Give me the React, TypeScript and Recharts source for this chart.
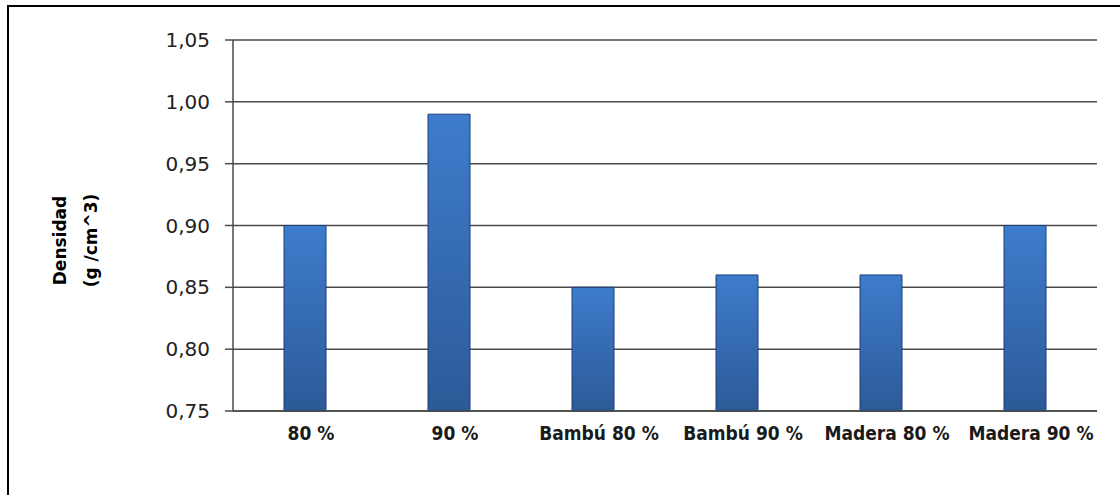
import { BarChart, Bar, XAxis, YAxis, CartesianGrid } from 'recharts';

const CATEGORIES = ['80 %', '90 %', 'Bambú 80 %', 'Bambú 90 %', 'Madera 80 %', 'Madera 90 %'];
const DENSIDAD = [0.9, 0.99, 0.85, 0.86, 0.86, 0.9];
const Y_TICKS = [0.75, 0.8, 0.85, 0.9, 0.95, 1.0, 1.05];

const chartData = CATEGORIES.map((name, i) => ({ name, value: DENSIDAD[i] }));

const formatTick = (v: number) => v.toFixed(2).replace('.', ',');

const AxisTitle = ({ viewBox }: any) => {
  const cy = viewBox.y + viewBox.height / 2 + 15;
  return (
    <g fontFamily="'DejaVu Sans', sans-serif" fontWeight="bold" fill="#000">
      <text x={60} y={cy} transform={`rotate(-90, 60, ${cy})`} textAnchor="middle" dominantBaseline="central" fontSize={17}>
        Densidad
      </text>
      <text x={91} y={cy} transform={`rotate(-90, 91, ${cy})`} textAnchor="middle" dominantBaseline="central" fontSize={17}>
        (g /cm^3)
      </text>
    </g>
  );
};

export default function App() {
  return (
    <div style={{ position: 'absolute', left: 0, top: 0, width: 1120, height: 495, background: '#fff' }}>
      <div
        style={{
          position: 'absolute',
          left: 7,
          top: 5,
          width: 1113,
          height: 490,
          borderTop: '2px solid #000',
          borderLeft: '2px solid #000',
        }}
      />
      <div style={{ position: 'absolute', left: 0, top: 0 }}>
        <BarChart
          width={1120}
          height={495}
          data={chartData}
          margin={{ top: 40, right: 23, bottom: 54, left: 133 }}
          barSize={42}
        >
          <defs>
            <linearGradient id="barFill" x1="0" y1="0" x2="0" y2="1">
              <stop offset="0%" stopColor="#3E7CCC" />
              <stop offset="100%" stopColor="#2C5A98" />
            </linearGradient>
          </defs>
          <CartesianGrid vertical={false} stroke="#4a4a4a" strokeWidth={1.5} />
          <XAxis
            dataKey="name"
            height={30}
            tickLine={false}
            axisLine={{ stroke: '#4a4a4a', strokeWidth: 1.5 }}
            tickSize={0}
            tickMargin={16}
            dx={6}
            tick={{ fontFamily: "'DejaVu Sans Condensed', 'DejaVu Sans', sans-serif", fontSize: 19, fontWeight: 'bold', fill: '#1a1a1a' }}
            interval={0}
          />
          <YAxis
            width={100}
            domain={[0.75, 1.05]}
            ticks={Y_TICKS}
            tickFormatter={formatTick}
            tickSize={8}
            tickMargin={15}
            tickLine={{ stroke: '#4a4a4a', strokeWidth: 1.5 }}
            axisLine={{ stroke: '#4a4a4a', strokeWidth: 1.5 }}
            tick={{ fontFamily: "'DejaVu Sans', sans-serif", fontSize: 20, fill: '#222' }}
            label={{ content: AxisTitle }}
          />
          <Bar dataKey="value" fill="url(#barFill)" stroke="#1E3C78" strokeWidth={1} isAnimationActive={false} />
        </BarChart>
      </div>
    </div>
  );
}
